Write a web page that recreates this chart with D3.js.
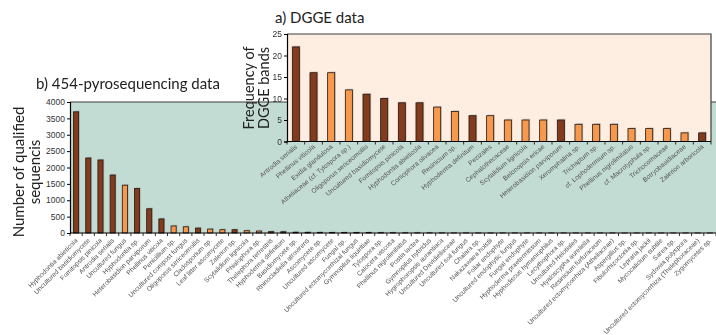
<!DOCTYPE html>
<html>
<head>
<meta charset="utf-8">
<script src="https://cdn.jsdelivr.net/npm/d3@7"></script>
<style>
  html, body { margin: 0; padding: 0; background: #fff; }
  svg { display: block; }
  .title { font-family: Lato, "Open Sans", sans-serif; fill: #222; }
  .cat-labels { opacity: 0.99; will-change: transform; }
</style>
</head>
<body>
<svg id="chart" width="716" height="335"></svg>
<script>
// ---- b) 454-pyrosequencing data ----
const pyroTaxa = [
  "Hyphodontia abieticola", "Uncultured basidiomycete", "Fomitopsis pinicola", "Antrodia serialis",
  "Uncultured fungus", "Hyphodontia sp.", "Heterobasidion parviporum", "Phellinus viticola",
  "Penicillium sp.", "Uncultured compost fungus", "Oligoporus sericeomollis", "Cladosporium sp.",
  "Leaf litter ascomycete", "Zalerion sp.", "Scytalidium lignicola", "Phialophora sp.",
  "Thelephora terrestris", "Hyphoderma definitum", "Basidiomycete sp.", "Rhinocladiella atrovirens",
  "Ascomycete sp.", "Uncultured ascomycete", "Fungal sp.", "Uncultured ectomycorrhizal fungus",
  "Gymnopilus liquiritiae", "Tylospora sp.", "Calocera viscosa", "Phellinus nigrolimitatus",
  "Postia lactea", "Gymnopilus hybridus", "Hygrophoropsis aurantiaca", "Uncultured Davidiellaceae",
  "Uncultured soil fungus", "Chalara sp.", "Nakazawaea holstii", "Foliar endophyte",
  "Uncultured endophytic fungus", "Fungal endophyte", "Hyphoderma praetermissum", "Hyphodiscus hymeniophilus",
  "Lecythophora sp.", "Uncultured Helotiales", "Hyaloscypha aureliella", "Resinicium furfuraceum",
  "Uncultured ectomycorrhiza (Atheliaceae)", "Aspergillus sp.", "Fibulorhizoctonia sp.", "Lepraria jackii",
  "Mycocalicium subtile", "Sarea sp.", "Sydowia polyspora", "Uncultured ectomycorrhiza (Thelephoraceae)",
  "Zygomycetes sp."
];
const pyroCounts = [
  3700, 2290, 2230, 1770, 1460, 1360, 740, 430,
  215, 190, 150, 120, 100, 100, 70, 60,
  40, 38, 25, 22, 20, 18, 16, 15,
  14, 12, 10, 6, 5, 5, 4, 4,
  4, 3, 3, 3, 3, 2, 2, 2,
  2, 2, 2, 2, 2, 1, 1, 1,
  1, 1, 1, 1, 1
];
// "d" = dark bar, "o" = light bar
const pyroShade = [
  "d","d","d","d","o","d","d","d",
  "o","o","d","o","o","d","o","o",
  "d","d","d","d","o","o","o","d",
  "d","d","d","d","d","d","d","o",
  "o","o","o","o","o","o","d","o",
  "o","o","o","d","d","o","d","o",
  "o","o","o","d","o"
];
const pyroTicks = [0, 500, 1000, 1500, 2000, 2500, 3000, 3500, 4000];

// ---- a) DGGE data ----
const dggeTaxa = [
  "Antrodia serialis", "Phellinus viticola", "Exidia glandulosa", "Atheliaceae (cf. Tylospora sp.)",
  "Oligoporus sericeomollis", "Uncultured basidiomycete", "Fomitopsis pinicola", "Hyphodontia abieticola",
  "Coniophora olivacea", "Resinicium sp.", "Hyphoderma definitum", "Pezizales",
  "Cephalothecaceae", "Scytalidium lignicola", "Belonopsis ericae", "Heterobasidion parviporum",
  "Xeromphalina sp.", "Trichaptum sp.", "cf. Lophodermium sp.", "Phellinus nigrolimitatus",
  "cf. Macrotyphula sp.", "Trichocomaceae", "Botryobasidiaceae", "Zalerion arboricola"
];
const dggeBands = [22, 16, 16, 12, 11, 10, 9, 9, 8, 7, 6, 6, 5, 5, 5, 5, 4, 4, 4, 3, 3, 3, 2, 2];
const dggeShade = [
  "d","d","o","o","d","d","d","d",
  "o","o","d","o","o","o","o","d",
  "o","o","o","o","o","o","o","d"
];
const dggeTicks = [0, 5, 10, 15, 20, 25];

const fills = { d: "#823b1d", o: "#f7994d" };

const svg = d3.select("#chart");

function drawPanel(cfg) {
  const g = svg.append("g");
  const x = d3.scaleBand().domain(cfg.cats).range([cfg.x0, cfg.x1])
    .paddingInner(cfg.padIn).paddingOuter(cfg.padOut);
  const y = d3.scaleLinear().domain(cfg.domain).range([cfg.y0, cfg.y1]);

  // plot background
  g.append("rect")
    .attr("x", cfg.x0).attr("y", cfg.y1)
    .attr("width", cfg.bgRight - cfg.x0).attr("height", cfg.y0 - cfg.y1)
    .attr("fill", cfg.bg);
  // frame (top, right)
  g.append("path")
    .attr("d", `M${cfg.x0},${cfg.y1}H${cfg.bgRight}` + (cfg.rightEdge ? `V${cfg.y0}` : ""))
    .attr("fill", "none").attr("stroke", "#3c3c3c").attr("stroke-width", 1.2);

  const rows = cfg.cats.map((c, i) => ({ c, v: cfg.values[i], s: cfg.shade[i] }));

  // soft drop shadow behind each bar
  g.append("g").selectAll("rect").data(rows).join("rect")
    .attr("x", d => x(d.c) + 1.2)
    .attr("y", d => y(d.v) - 1.2)
    .attr("width", x.bandwidth())
    .attr("height", d => Math.max(0, cfg.y0 - y(d.v)))
    .attr("fill", "#7a7a7a").attr("opacity", 0.35);

  g.append("g").selectAll("rect").data(rows).join("rect")
    .attr("x", d => x(d.c))
    .attr("y", d => y(d.v))
    .attr("width", x.bandwidth())
    .attr("height", d => Math.max(0, cfg.y0 - y(d.v)))
    .attr("fill", d => fills[d.s])
    .attr("stroke", "#241510").attr("stroke-width", 0.8);

  // y axis
  const ya = g.append("g").attr("transform", `translate(${cfg.x0},0)`)
    .call(d3.axisLeft(y).tickValues(cfg.ticks).tickSize(3).tickPadding(2).tickFormat(d3.format("d")));
  ya.select(".domain").attr("stroke", "#000").attr("stroke-width", 1.2);
  ya.selectAll(".tick line").attr("stroke", "#000");
  ya.selectAll("text")
    .attr("font-family", "'Liberation Sans', Arial, sans-serif")
    .attr("font-size", 8.5)
    .attr("fill", "#333");

  // x axis baseline with ticks on band boundaries
  g.append("line")
    .attr("x1", cfg.x0).attr("x2", cfg.bgRight)
    .attr("y1", cfg.y0).attr("y2", cfg.y0)
    .attr("stroke", "#000").attr("stroke-width", 1.2);
  const step = x.step();
  const bounds = d3.range(cfg.cats.length + 1).map(k => cfg.x0 + k * step);
  g.append("g").selectAll("line").data(bounds).join("line")
    .attr("x1", d => d).attr("x2", d => d)
    .attr("y1", cfg.y0).attr("y2", cfg.y0 + 3)
    .attr("stroke", "#000").attr("stroke-width", 0.8);

  // rotated category labels
  g.append("g").attr("class", "cat-labels")
    .selectAll("text").data(cfg.cats).join("text")
    .attr("font-family", "'Liberation Sans', Arial, sans-serif")
    .attr("font-size", 6.6)
    .attr("fill", "#4f4f4f")
    .attr("text-anchor", "end")
    .attr("transform", d => `translate(${x(d) + x.bandwidth() / 2 + 2},${cfg.y0 + cfg.labOff}) rotate(${cfg.angle})`)
    .text(d => d);

  // axis title (two lines)
  const t = g.append("text").attr("class", "title")
    .attr("font-size", cfg.ytSize)
    .attr("text-anchor", "middle")
    .attr("transform", `translate(${cfg.ytX},${cfg.ytY}) rotate(-90)`);
  cfg.ytLines.forEach((s, i) => t.append("tspan").attr("x", 0).attr("dy", i === 0 ? 0 : cfg.ytGap).text(s));

  // panel title
  svg.append("text").attr("class", "title")
    .attr("x", cfg.titleX).attr("y", cfg.titleY)
    .attr("font-size", 15)
    .text(cfg.title);
}

// b first, so the DGGE panel sits on top of it
drawPanel({
  cats: pyroTaxa, values: pyroCounts, shade: pyroShade, ticks: pyroTicks,
  domain: [0, 4000], x0: 70, x1: 716, bgRight: 716, rightEdge: false,
  y0: 233, y1: 102, padIn: 0.58, padOut: 0.29, bg: "#c3dcd3",
  labOff: 8, angle: -45,
  ytX: 24, ytY: 172, ytLines: ["Number of qualified", "sequencis"], ytGap: 16, ytSize: 15,
  title: "b) 454-pyrosequencing data", titleX: 36, titleY: 89
});

drawPanel({
  cats: dggeTaxa, values: dggeBands, shade: dggeShade, ticks: dggeTicks,
  domain: [0, 25], x0: 287, x1: 711, bgRight: 711, rightEdge: true,
  y0: 141.5, y1: 34, padIn: 0.6, padOut: 0.3, bg: "#feeee2",
  labOff: 6, angle: -40,
  ytX: 254, ytY: 88, ytLines: ["Frequency of", "DGGE bands"], ytGap: 15, ytSize: 14.5,
  title: "a) DGGE data", titleX: 275, titleY: 23
});
</script>
</body>
</html>
